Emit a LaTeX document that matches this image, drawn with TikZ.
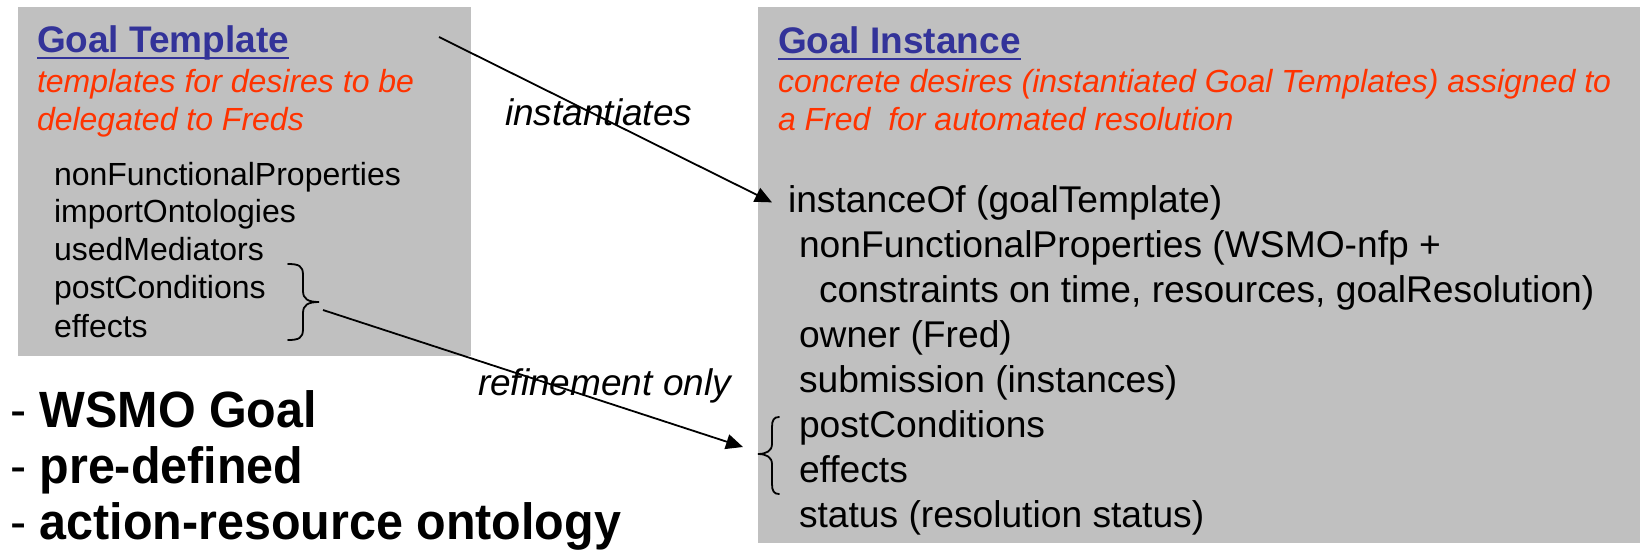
\documentclass[tikz,border=0pt]{standalone}
\usepackage{fontspec}
\setmainfont{Liberation Sans}
\newfontfamily\bigfam[FakeStretch=0.95]{Liberation Sans}
\usetikzlibrary{arrows.meta}
\definecolor{boxgrey}{HTML}{C0C0C0}
\definecolor{titleblue}{HTML}{333399}
\definecolor{descred}{HTML}{FF3300}
\begin{document}
\begin{tikzpicture}[x=1pt,y=-1pt,
  greybox/.style={fill=boxgrey, draw=none, inner sep=0, outer sep=0, anchor=north west},
  txt/.style={anchor=base west, inner sep=0, outer sep=0},
  titletext/.style={txt, font=\fontsize{37}{44}\selectfont\bfseries, text=titleblue},
  desc/.style={txt, font=\fontsize{32}{38}\selectfont\itshape, text=descred},
  itemL/.style={txt, font=\fontsize{32}{38}\selectfont},
  itemR/.style={txt, font=\fontsize{37.2}{44}\selectfont},
  lbl/.style={txt, font=\fontsize{37}{44}\selectfont\itshape},
  bigtext/.style={txt, font=\bigfam\fontsize{51}{56}\selectfont},
  uline/.style={titleblue, line width=2.4pt},
  conn/.style={line width=1.8pt, -{Triangle[length=17pt,width=15pt]}},
  bracepath/.style={line width=1.8pt, line cap=round}
]
\useasboundingbox (0,0) rectangle (1640,549);

% boxes
\node[greybox, minimum width=453pt, minimum height=349pt] (tbox) at (18,7) {};
\node[greybox, minimum width=882pt, minimum height=536pt] (ibox) at (758,7) {};

% Goal Template box
\node[titletext] (gt) at (37,52) {Goal Template};
\draw[uline] ([yshift=-6pt]gt.base west) -- ([yshift=-6pt]gt.base east);
\node[desc] (gtd1) at (37,92) {templates for desires to be};
\node[desc] (gtd2) at (37,130) {delegated to Freds};
\node[itemL] (ta) at (54,185) {nonFunctionalProperties};
\node[itemL] (tb) at (54,222) {importOntologies};
\node[itemL] (tc) at (54,260) {usedMediators};
\node[itemL] (td) at (54,298) {postConditions};
\node[itemL] (te) at (54,337) {effects};

% Goal Instance box
\node[titletext] (gi) at (778,53) {Goal Instance};
\draw[uline] ([yshift=-6pt]gi.base west) -- ([yshift=-6pt]gi.base east);
\node[desc] (gid1) at (778,92) {concrete desires (instantiated Goal Templates) assigned to};
\node[desc] (gid2) at (778,130) {a Fred~ for automated resolution};
\node[itemR] (ia) at (788,212) {instanceOf (goalTemplate)};
\node[itemR] (ib) at (799,257) {nonFunctionalProperties (WSMO-nfp +};
\node[itemR] (ic) at (819,302) {constraints on time, resources, goalResolution)};
\node[itemR] (id) at (799,347) {owner (Fred)};
\node[itemR] (ie) at (799,392) {submission (instances)};
\node[itemR] (if) at (799,437) {postConditions};
\node[itemR] (ig) at (799,482) {effects};
\node[itemR] (ih) at (799,527) {status (resolution status)};

% braces
\coordinate (lbtip) at (319,302);
\coordinate (rbtip) at (758,454);
\draw[bracepath] (288,264) .. controls (299,264) and (303,266) .. (303,275) -- (303,291)
  .. controls (303,299) and (308,302) .. (lbtip)
  .. controls (308,302) and (303,305) .. (303,313) -- (303,329)
  .. controls (303,338) and (299,340) .. (288,340);
\draw[bracepath] (779,417) .. controls (774,417) and (772,420) .. (772,427) -- (772,444)
  .. controls (772,451) and (766,454) .. (rbtip)
  .. controls (766,454) and (772,457) .. (772,464) -- (772,484)
  .. controls (772,491) and (774,494) .. (779,494);

% connectors
\coordinate (s1) at (439,37);
\draw[conn] (s1) -- ([xshift=-16pt]ia.west);
\draw[conn] ([shift={(4pt,-8pt)}]lbtip) -- ([shift={(-15pt,7pt)}]rbtip);

% labels
\node[lbl] (linst) at (505,125) {instantiates};
\node[lbl] (lref) at (478,395) {refinement only};

% bottom-left list
\node[bigtext] (w1) at (10,427) {- \textbf{WSMO Goal}};
\node[bigtext] (w2) at (10,483) {- \textbf{pre-defined}};
\node[bigtext] (w3) at (10,539) {- \textbf{action-resource ontology}};
\end{tikzpicture}
\end{document}
